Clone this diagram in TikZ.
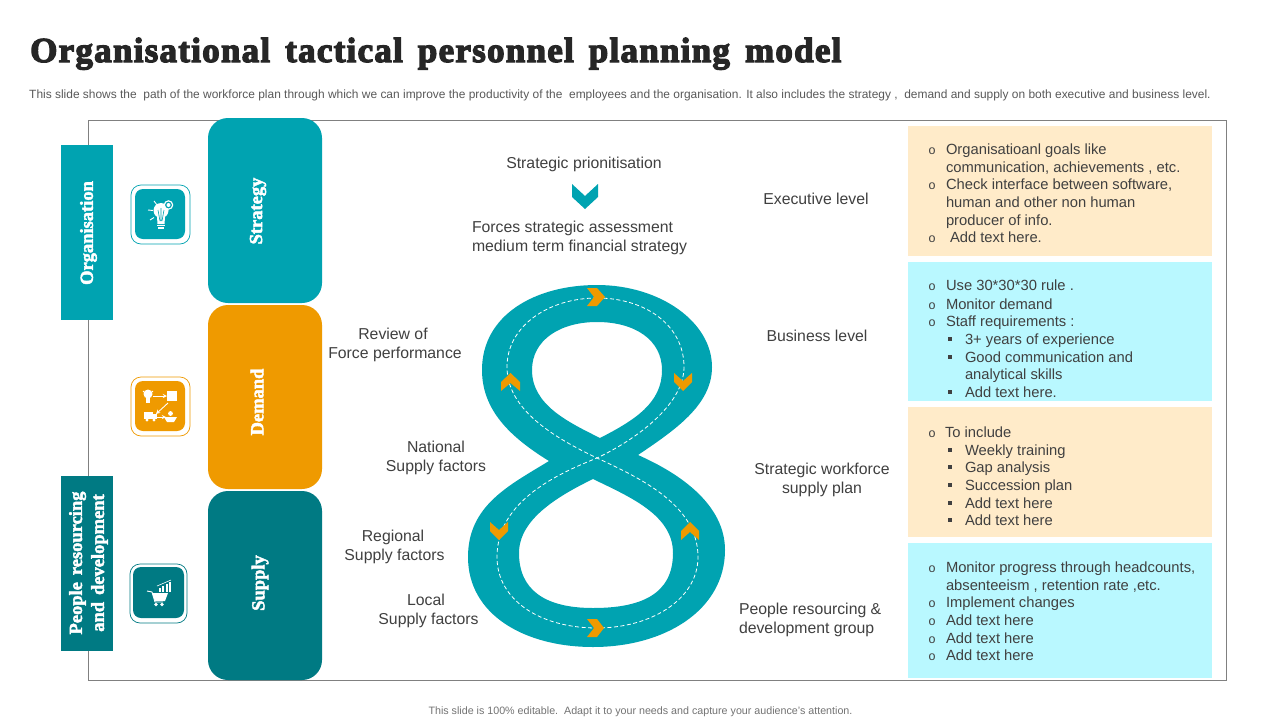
\documentclass[tikz,border=0pt]{standalone}
\usepackage{fontspec}
\setmainfont{Liberation Sans}
\newfontfamily\headfont[BoldFeatures={FakeBold=2.4,WordSpace=1.5}]{Liberation Serif}
\newfontfamily\titlefont[BoldFeatures={FakeBold=3.6,LetterSpace=3.6,WordSpace=1.5}]{Liberation Serif}
\definecolor{tealA}{HTML}{00A3B1}
\definecolor{tealB}{HTML}{007A83}
\definecolor{orangeA}{HTML}{EF9A00}
\definecolor{peach}{HTML}{FFEBC9}
\definecolor{cyanA}{HTML}{B9F8FF}
\definecolor{txt}{HTML}{404040}
\newcount\tc
\tikzset{
  x=1pt,y=-1pt,
  body/.style={font=\fontsize{15.8}{19}\selectfont,text=txt,inner sep=0pt,outer sep=0pt},
  card/.style={body,anchor=base west,font=\fontsize{14.75}{18}\selectfont},
  lab/.style={body,anchor=base},
  labl/.style={body,anchor=base west},
  ring/.style={body,anchor=base,font=\fontsize{12.5}{14}\selectfont},
  band/.style={fill=#1,draw=none},
  sidehead/.style={text=white,rotate=90,align=center,inner sep=0pt,font=\headfont\bfseries\fontsize{18.5}{22}\selectfont},
  boxhead/.style={text=white,rotate=90,inner sep=0pt,font=\headfont\bfseries\fontsize{18.5}{22}\selectfont},
  bigbox/.style={fill=#1,draw=none,rounded corners=20pt},
  iconout/.style={draw=#1,fill=white,line width=0.7pt,rounded corners=10pt},
  iconin/.style={fill=#1,draw=none,rounded corners=8pt},
  chev/.style={fill=orangeA,draw=none},
  ic/.style={fill=white,draw=none},
  icl/.style={draw=white,line width=0.9pt},
}
% one line of text: x, y of the text's middle, style, text
\newcommand{\tline}[4]{\global\advance\tc by 1 \node[#3] (t\the\tc) at (#1,#2+5.6) {#4};}
\newcommand{\rg}[2]{\tline{#1}{#2-2}{ring}{o}}
\newcommand{\sqb}[2]{\fill[txt] (#1-2,#2-2) rectangle (#1+2,#2+2);}
\begin{document}
\begin{tikzpicture}
\useasboundingbox (0,0) rectangle (1280,720);
\fill[white] (0,0) rectangle (1280,720);
% title
\node[anchor=base west,inner sep=0pt,text=black!85,font=\titlefont\bfseries\fontsize{35}{40}\selectfont] (title) at (30,62) {Organisational tactical personnel planning model};
\node[anchor=base west,inner sep=0pt,text=black!65,font=\fontsize{11.95}{14}\selectfont] (sub) at (29,98) {This slide shows the\ \ path of the workforce plan through which we can improve the productivity of the\ \ employees and the organisation. It also includes the strategy ,\ \ demand and supply on both executive and business level.};
\node[anchor=base,inner sep=0pt,text=black!55,font=\fontsize{10.7}{12}\selectfont] (foot) at (640.5,714) {This slide is 100\% editable.\ \ Adapt it to your needs and capture your audience's attention.};
% frame
\draw[draw=black!50,line width=1pt] (88,120) rectangle (1226,680);
% side bands
\fill[band=tealA] (61,145) rectangle (113,320);
\node[sidehead] (org) at (88.5,233) {Organisation};
\fill[band=tealB] (61,476) rectangle (113,651);
\node[sidehead] (ppl) at (88.5,563) {People resourcing\\and development};
% big boxes
\fill[bigbox=tealA] (208,118) rectangle (322,303);
\node[boxhead] (str) at (258,211) {Strategy};
\fill[bigbox=orangeA] (208,305) rectangle (322,489);
\node[boxhead] (dem) at (257,402) {Demand};
\fill[bigbox=tealB] (208,491) rectangle (322,680);
\node[boxhead] (sup) at (260,583) {Supply};
% icon 1
\draw[iconout=tealA] (131,185) rectangle (190,244);
\fill[iconin=tealA] (135,189) rectangle (185,239);
\fill[ic] (161,210.5) circle (7.5);
\fill[ic] (157,217) -- (165,217) -- (164.5,224) -- (157.5,224) -- cycle;
\fill[ic] (157,225) rectangle (165,226.2);
\fill[ic] (158,227.2) rectangle (164,228.6);
\draw[tealA,line width=0.6pt] (158,210) -- (160,221) (164,210) -- (162,221) (161,208) -- (161,221);
\fill[ic] (168.5,205) circle (4.8);
\fill[tealA] (168.5,205) circle (3.4);
\fill[ic] (168.5,205) circle (2);
\draw[icl] (154,201) -- (157,205) (148,210) -- (153,210.5) (150,220) -- (154,217.5);
% icon 2
\draw[iconout=orangeA] (131,377) rectangle (190,436);
\fill[iconin=orangeA] (135,381) rectangle (185,431);
\fill[ic] (148,394) circle (4.5);
\fill[ic] (146,397) rectangle (150,403);
\draw[icl] (143,391) -- (145,393) (153,391) -- (151,393);
\draw[icl,-stealth] (153,396) -- (167,396);
\fill[ic] (167,391) rectangle (177,401);
\draw[icl,-stealth] (168,403) -- (156,414);
\fill[ic] (144,412) rectangle (153,419);
\fill[ic] (153,414) -- (157,414) -- (157,419) -- (153,419) -- cycle;
\fill[ic] (147,420) circle (1.6);
\fill[ic] (154,420) circle (1.6);
\draw[icl,-stealth] (157,417) -- (166,417);
\fill[ic] (164,417) -- (177,417) -- (174,422) -- (167,422) -- cycle;
\fill[ic] (170.5,413.5) circle (2.4);
% icon 3
\draw[iconout=tealB] (130,564) rectangle (187,623);
\fill[iconin=tealB] (133,567) rectangle (184,618);
\draw[icl] (147,591) -- (152,592) -- (155,602) -- (163,602);
\fill[ic] (152,593) -- (168,593) -- (165,601) -- (155,601) -- cycle;
\fill[ic] (156,604.5) circle (1.8);
\fill[ic] (162,604.5) circle (1.8);
\fill[ic] (158.5,588) rectangle (160.5,592);
\fill[ic] (162,586) rectangle (164,592);
\fill[ic] (165.5,584) rectangle (167.5,592);
\fill[ic] (169,582) rectangle (171,592);
\draw[white,line width=0.6pt] (157,586) -- (171,580);
% cards
\fill[peach] (908,126) rectangle (1212,256);
\fill[cyanA] (908,262) rectangle (1212,401);
\fill[peach] (908,407) rectangle (1212,537);
\fill[cyanA] (908,543) rectangle (1212,678);
% figure of eight
\fill[band=tealA,even odd rule]
  (549,461) .. controls (510,437) and (482,410) .. (482,370)
  .. controls (482,315) and (535,285) .. (597,285)
  .. controls (660,285) and (712,322) .. (712,367)
  .. controls (712,405) and (675,430) .. (638,455)
  .. controls (690,478) and (725,510) .. (725,550)
  .. controls (725,610) and (665,647) .. (593,647)
  .. controls (525,647) and (468,615) .. (468,557)
  .. controls (468,505) and (510,485) .. (549,461) -- cycle
  (600,438) .. controls (635,420) and (662,403) .. (662,370)
  .. controls (662,340) and (635,322) .. (597,322)
  .. controls (560,322) and (532,340) .. (532,370)
  .. controls (532,405) and (568,422) .. (600,438) -- cycle
  (593,479) .. controls (630,497) and (673,515) .. (673,553)
  .. controls (673,595) and (640,608) .. (593,608)
  .. controls (545,608) and (519,590) .. (519,553)
  .. controls (519,520) and (556,497) .. (593,479) -- cycle;
\draw[white,line width=0.8pt,dash pattern=on 4pt off 2.5pt]
  (597,298) .. controls (645,298) and (684,325) .. (684,367)
  .. controls (684,405) and (635,440) .. (597,458)
  .. controls (560,473) and (497,500) .. (497,557)
  .. controls (497,600) and (540,628) .. (597,628)
  .. controls (650,628) and (698,600) .. (698,557)
  .. controls (698,505) and (640,478) .. (597,458)
  .. controls (555,438) and (507,410) .. (507,367)
  .. controls (507,325) and (550,298) .. (597,298) -- cycle;
% chevrons on the eight
\fill[chev] (587,288) -- (597,288) -- (605,297) -- (597,306) -- (587,306) -- (594,297) -- cycle;
\fill[chev] (587,619) -- (597,619) -- (604,628) -- (597,637) -- (587,637) -- (594,628) -- cycle;
\fill[chev] (501,382) -- (510.5,373) -- (520,382) -- (520,391) -- (510.5,383) -- (501,391) -- cycle;
\fill[chev] (681,531) -- (690,522) -- (699,531) -- (699,540) -- (690,532) -- (681,540) -- cycle;
\fill[chev] (674,373) -- (683,381) -- (692,373) -- (692,382) -- (683,391) -- (674,382) -- cycle;
\fill[chev] (490,522) -- (499,530) -- (508,522) -- (508,531) -- (499,540) -- (490,531) -- cycle;
% top teal chevron
\fill[band=tealA] (572,184) -- (585,196) -- (598,184) -- (598,197) -- (585,209) -- (572,197) -- cycle;
% centre labels
\tline{584}{163}{lab}{Strategic prionitisation}
\tline{472}{227}{labl}{Forces strategic assessment}
\tline{472}{246}{labl}{medium term financial strategy}
\tline{816}{199}{lab}{Executive level}
\tline{817}{336}{lab}{Business level}
\tline{393}{334}{lab}{Review of}
\tline{395}{353}{lab}{Force performance}
\tline{436}{447}{lab}{National}
\tline{436}{466}{lab}{Supply factors}
\tline{393}{536}{lab}{Regional}
\tline{394.5}{555}{lab}{Supply factors}
\tline{426}{600}{lab}{Local}
\tline{428.5}{619}{lab}{Supply factors}
\tline{822}{469}{lab}{Strategic workforce}
\tline{822}{488}{lab}{supply plan}
\tline{739}{609}{labl}{People resourcing \&}
\tline{739}{628}{labl}{development group}
% card 1
\rg{932}{151}\tline{946}{149}{card}{Organisatioanl goals like}
\tline{946}{167}{card}{communication, achievements , etc.}
\rg{932}{186}\tline{946}{184}{card}{Check interface between software,}
\tline{946}{202}{card}{human and other non human}
\tline{946}{220}{card}{producer of info.}
\rg{932}{239}\tline{950}{237}{card}{Add text here.}
% card 2
\rg{932}{287}\tline{946}{285}{card}{Use 30*30*30 rule .}
\rg{932}{306}\tline{946}{304}{card}{Monitor demand}
\rg{932}{323}\tline{946}{321}{card}{Staff requirements :}
\sqb{950}{339}\tline{965}{339}{card}{3+ years of experience}
\sqb{950}{357}\tline{965}{357}{card}{Good communication and}
\tline{965}{374}{card}{analytical skills}
\sqb{950}{392}\tline{965}{392}{card}{Add text here.}
% card 3
\rg{932}{434}\tline{945}{432}{card}{To include}
\sqb{950}{450}\tline{965}{450}{card}{Weekly training}
\sqb{950}{467}\tline{965}{467}{card}{Gap analysis}
\sqb{950}{485}\tline{965}{485}{card}{Succession plan}
\sqb{950}{503}\tline{965}{503}{card}{Add text here}
\sqb{950}{520}\tline{965}{520}{card}{Add text here}
% card 4
\rg{932}{569}\tline{946}{567}{card}{Monitor progress through headcounts,}
\tline{946}{585}{card}{absenteeism , retention rate ,etc.}
\rg{932}{604}\tline{946}{602}{card}{Implement changes}
\rg{932}{622}\tline{946}{620}{card}{Add text here}
\rg{932}{640}\tline{946}{638}{card}{Add text here}
\rg{932}{657}\tline{946}{655}{card}{Add text here}
\end{tikzpicture}
\end{document}
